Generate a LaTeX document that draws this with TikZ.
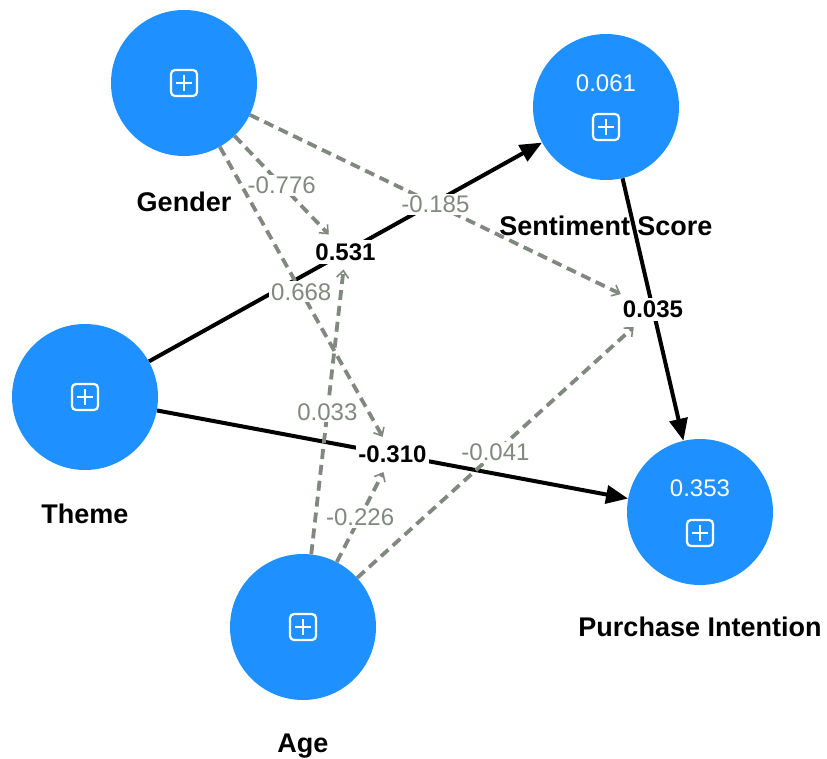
\documentclass[tikz,border=0pt]{standalone}
\usepackage{fontspec}
\setmainfont{Liberation Sans}
\usetikzlibrary{arrows.meta, positioning, calc, backgrounds}
\definecolor{lvblue}{HTML}{1E90FF}
\definecolor{modgray}{HTML}{80887F}

\begin{document}
\begin{tikzpicture}[
  x=1pt, y=-1pt,
  lv/.style={circle, fill=lvblue, minimum size=146pt, inner sep=0pt},
  lvname/.style={font=\fontsize{27}{31}\selectfont\bfseries, inner sep=0pt, text height=19pt, text depth=0pt},
  rsq/.style={font=\fontsize{24}{28}\selectfont, text=white, inner sep=0pt},
  coef/.style={font=\fontsize{24}{28}\selectfont\bfseries, fill=white, inner xsep=2pt, inner ysep=3pt, outer ysep=6pt},
  modlab/.style={font=\fontsize{24}{28}\selectfont, text=modgray, fill=white, inner sep=2pt},
  effect/.style={-{Triangle[length=22pt, width=18pt]}, line width=4pt, black},
  moder/.style={-{Straight Barb[length=7pt, width=12pt, line width=1.6pt]}, line width=3.8pt, modgray, dash pattern=on 10pt off 6pt},
  expand/.pic={
    \draw[white, line width=2.2pt, rounded corners=4pt] (-13,-13) rectangle (13,13);
    \draw[white, line width=2.2pt] (-8,0) -- (8,0) (0,-8) -- (0,8);
  }
]
\useasboundingbox (0,0) rectangle (827,758);

% constructs
\node[lv] (gender) at (184,83) {};
\node[lv] (senti) at (606,107) {};
\node[lv] (theme) at (85,397) {};
\node[lv] (age) at (303,627) {};
\node[lv] (purch) at (700,512) {};

\node[lvname, below=36pt of gender] (gendername) {Gender};
\node[lvname, below=36pt of senti] (sentiname) {Sentiment Score};
\node[lvname, below=34pt of theme] (themename) {Theme};
\node[lvname, below=33pt of age] (agename) {Age};
\node[lvname, below=32pt of purch] (purchname) {Purchase Intention};

% R-squared values and expand icons
\node[rsq] (sentir2) at ($(senti)+(0,-24)$) {0.061};
\node[rsq] (purchr2) at ($(purch)+(0,-24)$) {0.353};
\pic at (gender) {expand};
\pic at (theme) {expand};
\pic at (age) {expand};
\pic at ($(senti)+(0,20)$) {expand};
\pic at ($(purch)+(0,21)$) {expand};

% path coefficients
\node[coef] (ts) at ($(theme)!.5!(senti)$) {0.531};
\node[coef] (tp) at ($(theme)!.5!(purch)$) {-0.310};
\node[coef] (sp) at ($(senti)!.5!(purch)$) {0.035};

\begin{scope}[on background layer]
\draw[effect] (theme) -- (senti);
\draw[effect] (theme) -- (purch);
\draw[effect] (senti) -- (purch);
\end{scope}

% moderating effects
\foreach \m/\t/\v in {gender/ts/-0.776, gender/tp/0.668, gender/sp/-0.185,
                      age/ts/0.033, age/tp/-0.226, age/sp/-0.041}
  \draw[moder] (\m) -- node[modlab] {\v} (\t);
\end{tikzpicture}
\end{document}
